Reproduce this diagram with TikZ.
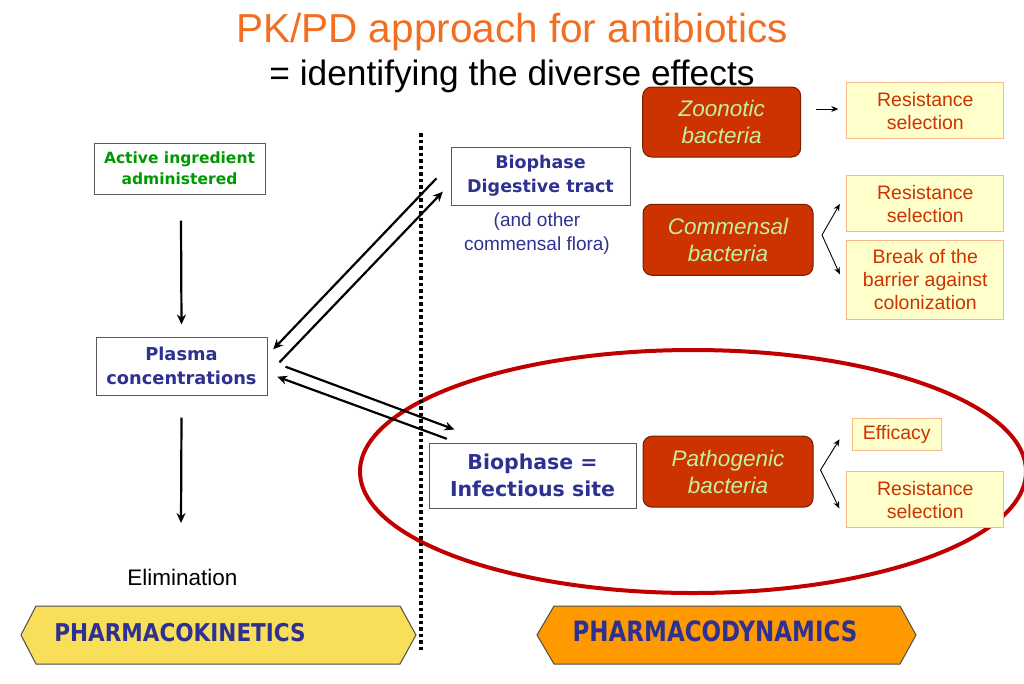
\documentclass[tikz,border=0pt]{standalone}
\usepackage{fontspec}
\usepackage{graphicx}
\setmainfont{Liberation Sans}
\newfontfamily\verd{DejaVu Sans}
\usetikzlibrary{arrows.meta,calc}

\definecolor{titleorange}{RGB}{243,110,33}
\definecolor{actgreen}{RGB}{0,153,0}
\definecolor{pkblue}{RGB}{46,49,146}
\definecolor{bactred}{RGB}{204,51,0}
\definecolor{bactedge}{RGB}{120,30,0}
\definecolor{bacttext}{RGB}{195,240,160}
\definecolor{effyellow}{RGB}{255,255,204}
\definecolor{effedge}{RGB}{245,185,140}
\definecolor{efftext}{RGB}{204,51,0}
\definecolor{ringred}{RGB}{192,0,0}
\definecolor{pkyellow}{RGB}{249,222,90}
\definecolor{pdorange}{RGB}{255,153,0}

\tikzset{
  compbox/.style={draw=gray!70!black, line width=1pt, fill=white, align=center, inner sep=0pt, text=pkblue},
  bact/.style={draw=bactedge, fill=bactred, line width=1pt, rounded corners=9pt, align=center, inner sep=0pt,
    text=bacttext, font=\fontsize{22.5}{27}\selectfont\itshape},
  effbox/.style={draw=effedge, fill=effyellow, line width=1pt, align=center, inner sep=0pt,
    text=efftext, font=\fontsize{19.5}{23}\selectfont},
  flow/.style={-{Stealth[length=10pt,width=9pt]}, line width=2.2pt},
  fork/.style={-{Stealth[length=7pt,width=6pt]}, line width=0.9pt},
  bandlabel/.style={text=pkblue, inner sep=0pt},
}

\begin{document}
\begin{tikzpicture}[x=1pt,y=-1pt]
		\useasboundingbox (0,0) rectangle (1024,683);
		\draw[ringred, line width=4pt] (693,471.5) ellipse [x radius=333, y radius=121.5];

		\node[compbox, text=actgreen, minimum width=171, minimum height=51, font=\verd\bfseries\fontsize{15.5}{21}\selectfont] (active) at (179.5,168.5) {Active ingredient\\administered};
		\node[compbox, minimum width=171, minimum height=58, font=\verd\bfseries\fontsize{17.8}{24}\selectfont] (plasma) at (181.5,366) {Plasma\\concentrations};
		\node[font=\fontsize{22.5}{27}\selectfont] (elim) at (182.5,577) {Elimination};
		\node[compbox, minimum width=179, minimum height=58, font=\verd\bfseries\fontsize{17.5}{24}\selectfont] (digest) at (540.5,176) {Biophase\\Digestive tract};
		\node[text=pkblue, align=center, font=\fontsize{19}{24}\selectfont] (flora) at (537,234) {(and other\\commensal flora)};
		\node[compbox, minimum width=207, minimum height=65, font=\verd\bfseries\fontsize{20.5}{27}\selectfont] (infect) at (532.5,475.5) {Biophase =\\Infectious site};

		\node[bact, minimum width=158, minimum height=70] (zoo) at (721.7,122) {Zoonotic\\bacteria};
		\node[bact, minimum width=170, minimum height=71] (comm) at (728,239.8) {Commensal\\bacteria};
		\node[bact, minimum width=170, minimum height=71] (path) at (728,471.7) {Pathogenic\\bacteria};

		\node[effbox, minimum width=157, minimum height=56] (res1) at (925.3,110.7) {Resistance\\selection};
		\node[effbox, minimum width=157, minimum height=56] (res2) at (925.3,203.8) {Resistance\\selection};
		\node[effbox, minimum width=157, minimum height=78.6] (brk) at (925.3,280) {Break of the\\barrier against\\colonization};
		\node[effbox, minimum width=88.7, minimum height=32.4] (eff) at (896.7,434.5) {Efficacy};
		\node[effbox, minimum width=157, minimum height=56] (res3) at (925.3,499.7) {Resistance\\selection};

		\draw[flow] ($(active.south)+(1.5,26)$) -- ($(plasma.north)+(0,-12)$);
		\draw[flow] ($(plasma.south)+(0,22)$) -- ($(elim.center)+(-1.5,-54)$);
		\draw[flow] ($(digest.west)+(-14,2.3)$) -- ($(plasma.east)+(5.7,-16.7)$);
		\draw[flow] ($(plasma.east)+(12,-3.7)$) -- ($(digest.west)+(-7.7,15.7)$);
		\draw[flow] ($(plasma.east)+(18,0.7)$) -- ($(infect.north west)+(26,-13)$);
		\draw[flow] ($(infect.north west)+(18.3,-3.7)$) -- ($(plasma.east)+(9.7,10.7)$);

		\draw[fork] ($(zoo.east)+(15,-13)$) -- ($(res1.west)+(-8,-1.7)$);
		\draw[fork] ($(comm.east)+(8.5,-4.8)$) -- ($(res2.west)+(-6.5,0.2)$);
		\draw[fork] ($(comm.east)+(8.5,-4.8)$) -- ($(brk.west)+(-6.5,-5.7)$);
		\draw[fork] ($(path.east)+(7,-1.7)$) -- ($(eff.west)+(-12.3,4.8)$);
		\draw[fork] ($(path.east)+(7,-1.7)$) -- ($(res3.west)+(-7,8.6)$);

		\draw[line width=3.5pt, dash pattern=on 3.5pt off 3pt] (421,133) -- (421,652);

		\draw[draw=black!70, fill=pkyellow, line width=1pt] (21,635) -- (36,606) -- (400,606) -- (416,635) -- (400,664) -- (36,664) -- cycle;
		\node[bandlabel] (pk) at (180,633) {\scalebox{0.88}[1]{\verd\bfseries\fontsize{24.5}{24.5}\selectfont PHARMACOKINETICS}};
		\draw[draw=black!70, fill=pdorange, line width=1pt] (537,635) -- (554,606) -- (900,606) -- (916,635) -- (900,664) -- (554,664) -- cycle;
		\node[bandlabel] (pd) at (715,631) {\scalebox{0.82}[1]{\verd\bfseries\fontsize{28}{28}\selectfont PHARMACODYNAMICS}};

		\node[text=titleorange, font=\fontsize{40.5}{40.5}\selectfont] (title) at (512,32) {PK/PD approach for antibiotics};
		\node[font=\fontsize{35.3}{35.3}\selectfont] (subtitle) at (512,76) {= identifying the diverse effects};
	\end{tikzpicture}
\end{document}
